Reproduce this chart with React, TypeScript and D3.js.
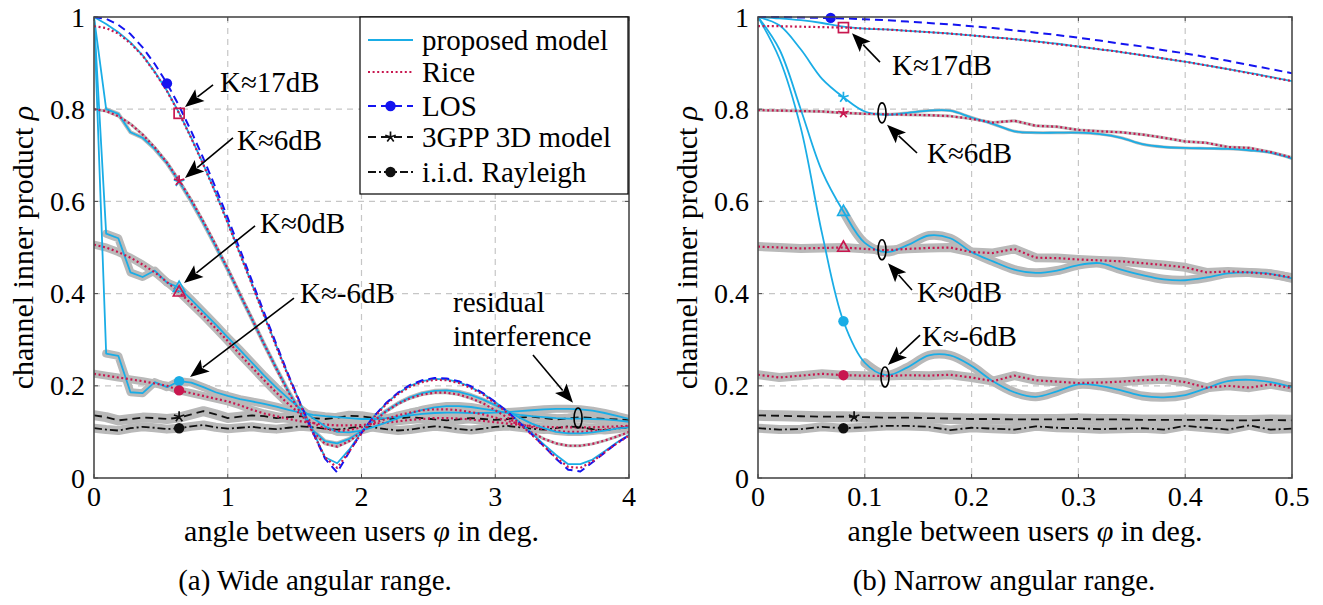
import * as d3 from 'd3';

const W = 1323;
const H = 605;
const TOP = 17;
const BOTTOM = 478;
const FONT = '"Liberation Serif", "Times New Roman", serif';

const CYAN = '#1aade6';
const RED = '#c8174f';
const BLUE = '#1414f0';
const INK = '#111111';
const BAND = '#b9b9b9';

// ---------- (a) wide angular range, 0..4 deg ----------
const wideX = [0, 0.0909, 0.1818, 0.2727, 0.3636, 0.4545, 0.5455, 0.6364, 0.7273, 0.8182, 0.9091, 1.0, 1.0909, 1.1818, 1.2727, 1.3636, 1.4545, 1.5455, 1.6364, 1.7273, 1.8182, 1.9091, 2.0, 2.0909, 2.1818, 2.2727, 2.3636, 2.4545, 2.5455, 2.6364, 2.7273, 2.8182, 2.9091, 3.0, 3.0909, 3.1818, 3.2727, 3.3636, 3.4545, 3.5455, 3.6364, 3.7273, 3.8182, 3.9091, 4.0];
const wideLOS = [1, 0.996, 0.983, 0.963, 0.934, 0.898, 0.856, 0.807, 0.752, 0.693, 0.630, 0.564, 0.496, 0.427, 0.358, 0.290, 0.223, 0.160, 0.099, 0.042, 0.012, 0.057, 0.098, 0.133, 0.162, 0.185, 0.202, 0.212, 0.217, 0.216, 0.210, 0.199, 0.184, 0.165, 0.144, 0.120, 0.095, 0.069, 0.042, 0.018, 0.014, 0.034, 0.055, 0.076, 0.092];
const wideRice17 = [0.980, 0.976, 0.964, 0.943, 0.916, 0.880, 0.839, 0.791, 0.737, 0.679, 0.618, 0.553, 0.486, 0.419, 0.351, 0.284, 0.219, 0.157, 0.098, 0.045, 0.022, 0.058, 0.097, 0.131, 0.159, 0.182, 0.198, 0.208, 0.213, 0.212, 0.206, 0.195, 0.181, 0.162, 0.141, 0.118, 0.094, 0.069, 0.044, 0.024, 0.022, 0.036, 0.056, 0.075, 0.092];
const wideProp17 = [1, 0.985, 0.967, 0.945, 0.917, 0.881, 0.840, 0.792, 0.738, 0.680, 0.619, 0.554, 0.487, 0.420, 0.352, 0.286, 0.221, 0.160, 0.102, 0.045, 0.032, 0.062, 0.100, 0.133, 0.161, 0.184, 0.200, 0.210, 0.215, 0.214, 0.208, 0.197, 0.183, 0.165, 0.144, 0.121, 0.097, 0.073, 0.050, 0.030, 0.030, 0.040, 0.058, 0.077, 0.094];
const wideRice6 = [0.800, 0.796, 0.785, 0.768, 0.745, 0.717, 0.684, 0.645, 0.603, 0.556, 0.506, 0.454, 0.399, 0.345, 0.290, 0.237, 0.186, 0.140, 0.100, 0.074, 0.068, 0.080, 0.100, 0.123, 0.144, 0.161, 0.173, 0.181, 0.185, 0.185, 0.181, 0.173, 0.162, 0.147, 0.131, 0.115, 0.099, 0.085, 0.075, 0.070, 0.070, 0.074, 0.081, 0.090, 0.100];
const wideProp6 = [1, 0.800, 0.790, 0.750, 0.738, 0.714, 0.683, 0.643, 0.600, 0.553, 0.503, 0.452, 0.398, 0.344, 0.290, 0.238, 0.188, 0.143, 0.104, 0.080, 0.075, 0.085, 0.102, 0.124, 0.145, 0.162, 0.175, 0.184, 0.189, 0.190, 0.187, 0.180, 0.170, 0.158, 0.145, 0.131, 0.118, 0.108, 0.100, 0.097, 0.097, 0.099, 0.103, 0.107, 0.110];
const wideRice0 = [0.506, 0.500, 0.490, 0.478, 0.463, 0.446, 0.425, 0.403, 0.378, 0.352, 0.325, 0.297, 0.268, 0.240, 0.212, 0.185, 0.160, 0.138, 0.120, 0.107, 0.102, 0.104, 0.110, 0.119, 0.128, 0.136, 0.142, 0.147, 0.149, 0.149, 0.147, 0.143, 0.138, 0.131, 0.124, 0.117, 0.111, 0.106, 0.102, 0.100, 0.100, 0.102, 0.105, 0.108, 0.112];
const wideProp0 = [1, 0.530, 0.520, 0.446, 0.436, 0.450, 0.424, 0.413, 0.387, 0.360, 0.333, 0.305, 0.278, 0.250, 0.222, 0.196, 0.172, 0.150, 0.130, 0.112, 0.100, 0.099, 0.103, 0.111, 0.120, 0.130, 0.140, 0.148, 0.153, 0.156, 0.156, 0.154, 0.150, 0.146, 0.141, 0.137, 0.134, 0.132, 0.130, 0.129, 0.129, 0.128, 0.127, 0.125, 0.122];
const wideRiceM6 = [0.226, 0.222, 0.218, 0.214, 0.210, 0.205, 0.200, 0.190, 0.184, 0.178, 0.172, 0.166, 0.158, 0.148, 0.140, 0.134, 0.128, 0.123, 0.119, 0.116, 0.114, 0.114, 0.115, 0.117, 0.120, 0.123, 0.126, 0.128, 0.130, 0.130, 0.129, 0.127, 0.124, 0.121, 0.118, 0.115, 0.113, 0.111, 0.110, 0.110, 0.110, 0.110, 0.111, 0.112, 0.113];
const widePropM6 = [1, 0.270, 0.265, 0.186, 0.184, 0.208, 0.197, 0.210, 0.207, 0.197, 0.186, 0.178, 0.171, 0.166, 0.161, 0.155, 0.148, 0.142, 0.137, 0.134, 0.132, 0.130, 0.128, 0.128, 0.130, 0.133, 0.136, 0.139, 0.141, 0.142, 0.142, 0.141, 0.141, 0.142, 0.143, 0.145, 0.147, 0.149, 0.150, 0.150, 0.149, 0.146, 0.141, 0.135, 0.128];
const wideGpp = [0.136, 0.132, 0.125, 0.128, 0.131, 0.130, 0.128, 0.131, 0.138, 0.145, 0.138, 0.130, 0.133, 0.136, 0.134, 0.130, 0.132, 0.134, 0.130, 0.128, 0.131, 0.135, 0.134, 0.130, 0.128, 0.129, 0.132, 0.130, 0.127, 0.125, 0.127, 0.130, 0.128, 0.126, 0.128, 0.131, 0.133, 0.130, 0.127, 0.129, 0.132, 0.130, 0.128, 0.127, 0.126];
const wideIid = [0.108, 0.105, 0.103, 0.108, 0.111, 0.109, 0.106, 0.108, 0.112, 0.115, 0.110, 0.107, 0.109, 0.111, 0.108, 0.106, 0.109, 0.112, 0.110, 0.107, 0.105, 0.108, 0.112, 0.110, 0.106, 0.103, 0.105, 0.109, 0.112, 0.110, 0.106, 0.104, 0.107, 0.111, 0.113, 0.110, 0.107, 0.105, 0.108, 0.112, 0.110, 0.106, 0.104, 0.107, 0.110];

// ---------- (b) narrow angular range, 0..0.5 deg ----------
const narrowX = [0, 0.02, 0.04, 0.06, 0.08, 0.1, 0.12, 0.14, 0.16, 0.18, 0.2, 0.22, 0.24, 0.26, 0.28, 0.3, 0.32, 0.34, 0.36, 0.38, 0.4, 0.42, 0.44, 0.46, 0.48, 0.5];
const narrowLOS = [1, 1.0, 0.999, 0.998, 0.997, 0.995, 0.993, 0.990, 0.987, 0.984, 0.980, 0.976, 0.971, 0.966, 0.961, 0.955, 0.949, 0.942, 0.936, 0.928, 0.921, 0.913, 0.905, 0.896, 0.887, 0.878];
const narrowRice17 = [0.980, 0.980, 0.979, 0.978, 0.977, 0.975, 0.973, 0.970, 0.967, 0.964, 0.960, 0.956, 0.952, 0.947, 0.941, 0.936, 0.930, 0.924, 0.917, 0.910, 0.903, 0.895, 0.887, 0.878, 0.869, 0.861];
const narrowProp17 = [1, 0.997, 0.993, 0.987, 0.979, 0.975, 0.973, 0.970, 0.967, 0.964, 0.960, 0.956, 0.952, 0.947, 0.942, 0.936, 0.930, 0.924, 0.917, 0.910, 0.903, 0.895, 0.887, 0.879, 0.870, 0.861];
const narrowRice6 = [0.798, 0.797, 0.796, 0.795, 0.792, 0.790, 0.789, 0.788, 0.787, 0.785, 0.779, 0.771, 0.775, 0.764, 0.762, 0.755, 0.752, 0.750, 0.745, 0.738, 0.730, 0.727, 0.718, 0.716, 0.707, 0.695];
const narrowProp6 = [1, 0.982, 0.930, 0.866, 0.826, 0.795, 0.788, 0.792, 0.797, 0.797, 0.782, 0.768, 0.752, 0.749, 0.749, 0.749, 0.746, 0.738, 0.724, 0.718, 0.716, 0.715, 0.714, 0.711, 0.706, 0.693];
const narrowRice0 = [0.502, 0.500, 0.498, 0.499, 0.500, 0.497, 0.494, 0.497, 0.499, 0.500, 0.490, 0.488, 0.497, 0.478, 0.477, 0.474, 0.472, 0.470, 0.466, 0.462, 0.457, 0.446, 0.448, 0.446, 0.442, 0.435];
const narrowProp0 = [1, 0.930, 0.800, 0.665, 0.578, 0.510, 0.490, 0.505, 0.526, 0.520, 0.490, 0.470, 0.452, 0.445, 0.450, 0.462, 0.466, 0.452, 0.440, 0.431, 0.429, 0.435, 0.444, 0.446, 0.443, 0.433];
const narrowRiceM6 = [0.224, 0.218, 0.222, 0.226, 0.223, 0.222, 0.221, 0.223, 0.222, 0.224, 0.218, 0.210, 0.222, 0.212, 0.209, 0.206, 0.207, 0.209, 0.212, 0.214, 0.208, 0.196, 0.200, 0.196, 0.203, 0.195];
const narrowPropM6 = [1, 0.910, 0.760, 0.530, 0.340, 0.250, 0.223, 0.240, 0.266, 0.266, 0.243, 0.210, 0.186, 0.176, 0.188, 0.203, 0.200, 0.190, 0.178, 0.175, 0.180, 0.195, 0.210, 0.213, 0.208, 0.197];
const narrowGpp = [0.136, 0.135, 0.134, 0.133, 0.133, 0.132, 0.131, 0.131, 0.130, 0.129, 0.128, 0.128, 0.127, 0.127, 0.127, 0.128, 0.127, 0.127, 0.126, 0.126, 0.126, 0.126, 0.125, 0.125, 0.126, 0.125];
const narrowIid = [0.108, 0.105, 0.106, 0.111, 0.108, 0.110, 0.113, 0.113, 0.111, 0.104, 0.109, 0.107, 0.105, 0.112, 0.109, 0.108, 0.106, 0.107, 0.108, 0.105, 0.113, 0.109, 0.105, 0.114, 0.105, 0.107];

const yTicks = [0, 0.2, 0.4, 0.6, 0.8, 1];
const wideTicks = [0, 1, 2, 3, 4];
const narrowTicks = [0, 0.1, 0.2, 0.3, 0.4, 0.5];

const legendItems = [
  { kind: 'prop', label: 'proposed model' },
  { kind: 'rice', label: 'Rice' },
  { kind: 'los', label: 'LOS', mark: 'circle' },
  { kind: 'gpp', label: '3GPP 3D model', mark: 'star' },
  { kind: 'iid', label: 'i.i.d. Rayleigh', mark: 'circle' },
];

type Kind = 'prop' | 'rice' | 'los' | 'gpp' | 'iid';
type Shape = 'circle' | 'square' | 'triangle' | 'star';

const STYLE: Record<Kind, { stroke: string; width: number; dash?: string }> = {
  prop: { stroke: CYAN, width: 1.8 },
  rice: { stroke: RED, width: 2.2, dash: '2,2.6' },
  los: { stroke: BLUE, width: 2, dash: '8,5' },
  gpp: { stroke: INK, width: 1.8, dash: '8,5' },
  iid: { stroke: INK, width: 1.8, dash: '8,3,2,3' },
};

interface Series { kind: Kind; values: number[]; band?: number; bandFrom?: number }
interface MarkSpec { shape: Shape; kind: Kind; x: number; y: number }
interface Note { lines: string[]; tx: number; ty: number[]; from: [number, number]; to: [number, number]; ring?: [number, number] }

interface PanelSpec {
  id: string;
  xs: number[];
  xDomain: number[];
  xRange: number[];
  xTicks: number[];
  smooth: boolean;
  legend: boolean;
  yLabelX: number;
  caption: string;
  captionX: number;
  series: Series[];
  marks: MarkSpec[];
  notes: Note[];
}

const wide: PanelSpec = {
  id: 'wide',
  xs: wideX,
  xDomain: [0, 4],
  xRange: [94, 629],
  xTicks: wideTicks,
  smooth: false,
  legend: true,
  yLabelX: 33,
  caption: '(a) Wide angular range.',
  captionX: 315,
  series: [
    { kind: 'gpp', values: wideGpp, band: 10 },
    { kind: 'iid', values: wideIid, band: 9 },
    { kind: 'prop', values: widePropM6, band: 8, bandFrom: 1 },
    { kind: 'rice', values: wideRiceM6, band: 8 },
    { kind: 'prop', values: wideProp0, band: 8, bandFrom: 1 },
    { kind: 'rice', values: wideRice0, band: 8 },
    { kind: 'prop', values: wideProp6, band: 4, bandFrom: 1 },
    { kind: 'rice', values: wideRice6, band: 3 },
    { kind: 'prop', values: wideProp17 },
    { kind: 'los', values: wideLOS },
    { kind: 'rice', values: wideRice17 },
  ],
  marks: [
    { shape: 'circle', kind: 'los', x: 0.5455, y: 0.856 },
    { shape: 'square', kind: 'rice', x: 0.6364, y: 0.791 },
    { shape: 'star', kind: 'prop', x: 0.6364, y: 0.643 },
    { shape: 'star', kind: 'rice', x: 0.6364, y: 0.645 },
    { shape: 'triangle', kind: 'prop', x: 0.6364, y: 0.413 },
    { shape: 'triangle', kind: 'rice', x: 0.6364, y: 0.403 },
    { shape: 'circle', kind: 'prop', x: 0.6364, y: 0.21 },
    { shape: 'circle', kind: 'rice', x: 0.6364, y: 0.19 },
    { shape: 'star', kind: 'gpp', x: 0.6364, y: 0.133 },
    { shape: 'circle', kind: 'iid', x: 0.6364, y: 0.108 },
  ],
  notes: [
    { lines: ['K≈17dB'], tx: 0.942, ty: [0.859], from: [0.89, 0.853], to: [0.68, 0.805] },
    { lines: ['K≈6dB'], tx: 1.069, ty: [0.733], from: [1.039, 0.738], to: [0.68, 0.651] },
    { lines: ['K≈0dB'], tx: 1.241, ty: [0.551], from: [1.204, 0.547], to: [0.673, 0.423] },
    { lines: ['K≈-6dB'], tx: 1.54, ty: [0.401], from: [1.495, 0.39], to: [0.718, 0.219] },
    { lines: ['residual', 'interference'], tx: 2.684, ty: [0.38, 0.308], from: [3.282, 0.267], to: [3.581, 0.163], ring: [3.619, 0.13] },
  ],
};

const narrow: PanelSpec = {
  id: 'narrow',
  xs: narrowX,
  xDomain: [0, 0.5],
  xRange: [758, 1292],
  xTicks: narrowTicks,
  smooth: true,
  legend: false,
  yLabelX: 697,
  caption: '(b) Narrow angular range.',
  captionX: 1004,
  series: [
    { kind: 'gpp', values: narrowGpp, band: 11 },
    { kind: 'iid', values: narrowIid, band: 9 },
    { kind: 'prop', values: narrowPropM6, band: 9, bandFrom: 5 },
    { kind: 'rice', values: narrowRiceM6, band: 9 },
    { kind: 'prop', values: narrowProp0, band: 9, bandFrom: 4 },
    { kind: 'rice', values: narrowRice0, band: 9 },
    { kind: 'prop', values: narrowProp6, band: 3, bandFrom: 6 },
    { kind: 'rice', values: narrowRice6, band: 3 },
    { kind: 'prop', values: narrowProp17 },
    { kind: 'rice', values: narrowRice17 },
    { kind: 'los', values: narrowLOS },
  ],
  marks: [
    { shape: 'circle', kind: 'los', x: 0.068, y: 0.998 },
    { shape: 'square', kind: 'rice', x: 0.08, y: 0.977 },
    { shape: 'star', kind: 'prop', x: 0.08, y: 0.826 },
    { shape: 'star', kind: 'rice', x: 0.08, y: 0.792 },
    { shape: 'triangle', kind: 'prop', x: 0.08, y: 0.578 },
    { shape: 'triangle', kind: 'rice', x: 0.08, y: 0.5 },
    { shape: 'circle', kind: 'prop', x: 0.08, y: 0.34 },
    { shape: 'circle', kind: 'rice', x: 0.08, y: 0.223 },
    { shape: 'star', kind: 'gpp', x: 0.09, y: 0.133 },
    { shape: 'circle', kind: 'iid', x: 0.08, y: 0.108 },
  ],
  notes: [
    { lines: ['K≈17dB'], tx: 0.1255, ty: [0.894], from: [0.1142, 0.902], to: [0.088, 0.965] },
    { lines: ['K≈6dB'], tx: 0.1582, ty: [0.703], from: [0.1489, 0.705], to: [0.1208, 0.766], ring: [0.1161, 0.792] },
    { lines: ['K≈0dB'], tx: 0.1489, ty: [0.403], from: [0.1442, 0.408], to: [0.1217, 0.466], ring: [0.1161, 0.495] },
    { lines: ['K≈-6dB'], tx: 0.1536, ty: [0.308], from: [0.1517, 0.31], to: [0.1217, 0.245], ring: [0.1189, 0.219] },
  ],
};

function Mark({ shape, color, cx, cy }: { shape: Shape; color: string; cx: number; cy: number }) {
  if (shape === 'circle') return <circle cx={cx} cy={cy} r={5.2} fill={color} />;
  if (shape === 'square')
    return <rect x={cx - 5} y={cy - 5} width={10} height={10} fill="none" stroke={color} strokeWidth={1.7} />;
  if (shape === 'triangle')
    return (
      <path
        d={`M${cx},${cy - 6.5}L${cx + 5.8},${cy + 3.8}L${cx - 5.8},${cy + 3.8}Z`}
        fill="none"
        stroke={color}
        strokeWidth={1.6}
      />
    );
  const spokes = d3.range(5).map((k) => {
    const a = (-90 + k * 72) * (Math.PI / 180);
    return `M${cx},${cy}L${cx + 5.5 * Math.cos(a)},${cy + 5.5 * Math.sin(a)}`;
  });
  return <path d={spokes.join('')} stroke={color} strokeWidth={1.7} fill="none" />;
}

function Arrow({ x1, y1, x2, y2 }: { x1: number; y1: number; x2: number; y2: number }) {
  const a = Math.atan2(y2 - y1, x2 - x1);
  const len = 19;
  const half = 7.5;
  const bx = x2 - len * Math.cos(a);
  const by = y2 - len * Math.sin(a);
  const px = -Math.sin(a) * half;
  const py = Math.cos(a) * half;
  return (
    <g>
      <line x1={x1} y1={y1} x2={bx + 3 * Math.cos(a)} y2={by + 3 * Math.sin(a)} stroke="#000" strokeWidth={1.6} />
      <path d={`M${x2},${y2}L${bx + px},${by + py}L${bx + 4 * Math.cos(a)},${by + 4 * Math.sin(a)}L${bx - px},${by - py}Z`} fill="#000" />
    </g>
  );
}

function Panel({ spec }: { spec: PanelSpec }) {
  const x = d3.scaleLinear().domain(spec.xDomain).range(spec.xRange);
  const y = d3.scaleLinear().domain([0, 1]).range([BOTTOM, TOP]);
  const [x0, x1] = spec.xRange;
  const makeLine = (kind: Kind, from = 0) =>
    d3
      .line<number>()
      .defined((_, i) => i >= from)
      .x((_, i) => x(spec.xs[i]))
      .y((d) => y(d))
      .curve(spec.smooth && kind === 'prop' ? d3.curveCatmullRom.alpha(0.5) : d3.curveLinear);
  const clipId = `clip-${spec.id}`;
  const midY = (TOP + BOTTOM) / 2;
  const midX = (x0 + x1) / 2;

  return (
    <g>
      <defs>
        <clipPath id={clipId}>
          <rect x={x0} y={TOP - 2} width={x1 - x0} height={BOTTOM - TOP + 2} />
        </clipPath>
      </defs>

      {/* grid */}
      {yTicks.slice(1, -1).map((t) => (
        <line key={`gy${t}`} x1={x0} x2={x1} y1={y(t)} y2={y(t)} stroke="#c6c6c6" strokeWidth={1.2} strokeDasharray="6,5" />
      ))}
      {spec.xTicks.slice(1, -1).map((t) => (
        <line key={`gx${t}`} x1={x(t)} x2={x(t)} y1={TOP} y2={BOTTOM} stroke="#c6c6c6" strokeWidth={1.2} strokeDasharray="6,5" />
      ))}

      <g clipPath={`url(#${clipId})`}>
        {/* confidence bands */}
        {spec.series.map((s, i) =>
          s.band ? (
            <path
              key={`b${i}`}
              d={makeLine(s.kind, s.bandFrom || 0)(s.values) || ''}
              fill="none"
              stroke={BAND}
              strokeWidth={s.band}
              strokeLinejoin="round"
              strokeLinecap="round"
            />
          ) : null,
        )}
        {spec.series.map((s, i) => {
          const st = STYLE[s.kind];
          return (
            <path
              key={`s${i}`}
              d={makeLine(s.kind)(s.values) || ''}
              fill="none"
              stroke={st.stroke}
              strokeWidth={st.width}
              strokeDasharray={st.dash}
              strokeLinejoin="round"
            />
          );
        })}
      </g>

      {spec.marks.map((m, i) => (
        <Mark key={`m${i}`} shape={m.shape} color={STYLE[m.kind].stroke} cx={x(m.x)} cy={y(m.y)} />
      ))}

      {/* frame and ticks */}
      <rect x={x0} y={TOP} width={x1 - x0} height={BOTTOM - TOP} fill="none" stroke="#4a4a4a" strokeWidth={1.6} />
      {spec.xTicks.map((t) => (
        <g key={`tx${t}`}>
          <line x1={x(t)} x2={x(t)} y1={BOTTOM} y2={BOTTOM - 4} stroke="#4a4a4a" />
          <line x1={x(t)} x2={x(t)} y1={TOP} y2={TOP + 4} stroke="#4a4a4a" />
          <text x={x(t)} y={506} textAnchor="middle" fontSize={28}>
            {String(t)}
          </text>
        </g>
      ))}
      {yTicks.map((t) => (
        <g key={`ty${t}`}>
          <line x1={x0} x2={x0 + 4} y1={y(t)} y2={y(t)} stroke="#4a4a4a" />
          <line x1={x1} x2={x1 - 4} y1={y(t)} y2={y(t)} stroke="#4a4a4a" />
          <text x={x0 - 9} y={y(t) + 9.5} textAnchor="end" fontSize={28}>
            {String(t)}
          </text>
        </g>
      ))}

      {/* annotations */}
      {spec.notes.map((n, i) => (
        <g key={`n${i}`}>
          {n.lines.map((ln, j) => (
            <text key={j} x={x(n.tx)} y={y(n.ty[j]) + 9.5} fontSize={29}>
              {ln}
            </text>
          ))}
          <Arrow x1={x(n.from[0])} y1={y(n.from[1])} x2={x(n.to[0])} y2={y(n.to[1])} />
          {n.ring && <ellipse cx={x(n.ring[0])} cy={y(n.ring[1])} rx={4} ry={10} fill="none" stroke="#000" strokeWidth={1.6} />}
        </g>
      ))}

      {spec.legend && (
        <g>
          <rect x={360} y={TOP} width={268} height={177} fill="#fff" stroke="#000" strokeWidth={1.2} />
          {legendItems.map((it, i) => {
            const cy = [40, 72, 106, 137, 172][i];
            const st = STYLE[it.kind as Kind];
            return (
              <g key={it.label}>
                <line x1={368} x2={413} y1={cy} y2={cy} stroke={st.stroke} strokeWidth={st.width} strokeDasharray={st.dash} />
                {it.mark && <Mark shape={it.mark as Shape} color={st.stroke} cx={390.5} cy={cy} />}
                <text x={422} y={cy + 9.5} fontSize={29}>
                  {it.label}
                </text>
              </g>
            );
          })}
        </g>
      )}

      {/* axis labels and caption */}
      <text transform={`translate(${spec.yLabelX},${midY}) rotate(-90)`} textAnchor="middle" fontSize={30}>
        channel inner product <tspan fontStyle="italic">ρ</tspan>
      </text>
      <text x={midX} y={541} textAnchor="middle" fontSize={30}>
        angle between users <tspan fontStyle="italic">φ</tspan> in deg.
      </text>
      <text x={spec.captionX} y={590} textAnchor="middle" fontSize={29}>
        {spec.caption}
      </text>
    </g>
  );
}

export default function App() {
  return (
    <svg
      width={W}
      height={H}
      viewBox={`0 0 ${W} ${H}`}
      style={{ position: 'absolute', left: 0, top: 0, background: '#fff' }}
      fontFamily={FONT}
    >
      <rect width={W} height={H} fill="#fff" />
      <Panel spec={wide} />
      <Panel spec={narrow} />
    </svg>
  );
}
